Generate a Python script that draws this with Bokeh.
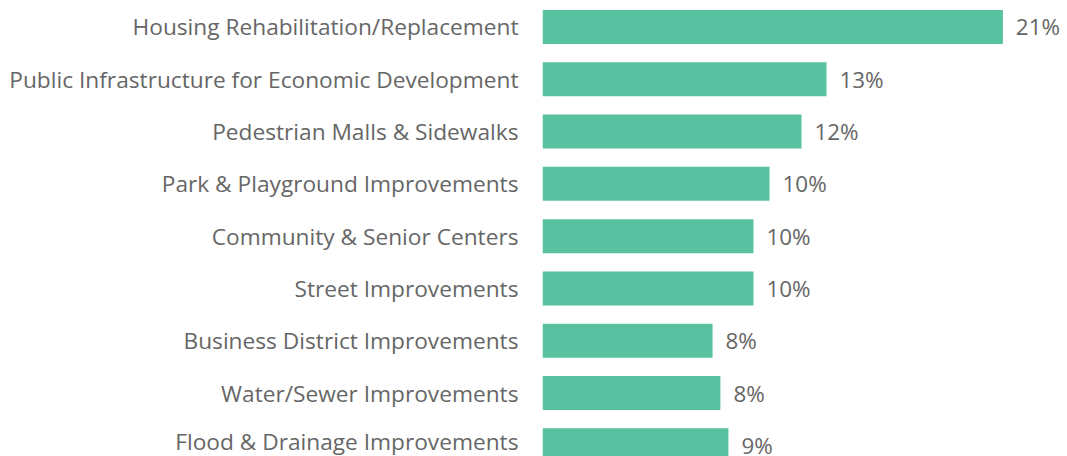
from bokeh.plotting import figure
from bokeh.models import Range1d, ColumnDataSource, FixedTicker, LabelSet
from bokeh.core.properties import value
from bokeh.embed import file_html
from bokeh.resources import INLINE

categories = [
    "Housing Rehabilitation/Replacement",
    "Public Infrastructure for Economic Development",
    "Pedestrian Malls & Sidewalks",
    "Park & Playground Improvements",
    "Community & Senior Centers",
    "Street Improvements",
    "Business District Improvements",
    "Water/Sewer Improvements",
    "Flood & Drainage Improvements",
]
shares = [21.17, 13.06, 11.91, 10.44, 9.70, 9.70, 7.82, 8.18, 8.55]
share_labels = ["21%", "13%", "12%", "10%", "10%", "10%", "8%", "8%", "9%"]

pos = list(range(len(categories)))
src = ColumnDataSource(dict(y=pos, v=shares, lab=share_labels))

FONT = "Open Sans"
GREY = "#666666"
BAR = "#58c1a0"

p = figure(width=1065, height=456, output_backend="svg", toolbar_location=None,
           x_range=Range1d(0, 24.05), y_range=Range1d(8.213, -0.506),
           min_border_left=542, min_border_right=0, min_border_top=0, min_border_bottom=0)
p.hbar(y="y", right="v", left=0, height=0.65, source=src, color=BAR, line_color=None)

labels = LabelSet(x="v", y="y", text="lab", source=src, x_offset=13,
                  text_baseline="middle", text_align="left",
                  text_font=value(FONT), text_font_size="22.4px", text_color=GREY)
p.add_layout(labels)

p.xaxis.visible = False
p.yaxis.ticker = FixedTicker(ticks=pos)
p.yaxis.major_label_overrides = {i: c for i, c in enumerate(categories)}
p.yaxis.major_tick_line_color = None
p.yaxis.minor_tick_line_color = None
p.yaxis.axis_line_color = None
p.yaxis.major_tick_out = 0
p.yaxis.major_tick_in = 0
p.yaxis.major_label_standoff = 24
p.yaxis.major_label_text_font = FONT
p.yaxis.major_label_text_font_size = "22.7px"
p.yaxis.major_label_text_color = GREY
p.grid.visible = False
p.outline_line_color = None

open("out.html", "w").write(file_html(p, INLINE))
